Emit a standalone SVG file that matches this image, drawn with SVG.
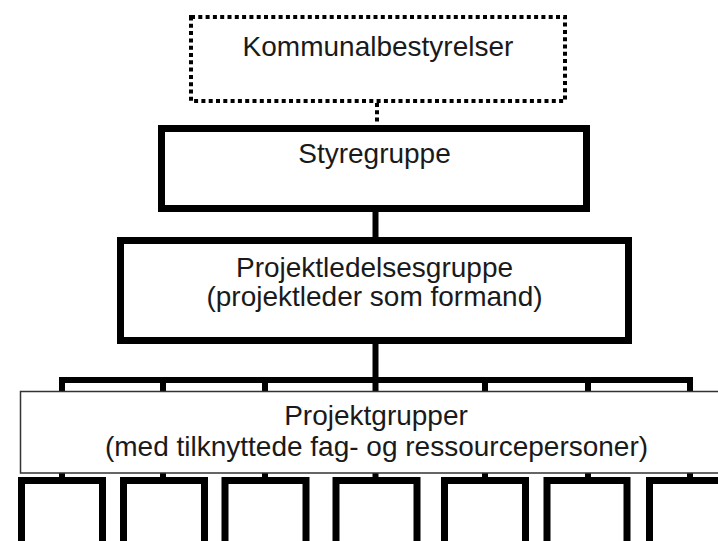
<svg xmlns="http://www.w3.org/2000/svg" width="718" height="541" viewBox="0 0 718 541">
  <style>
    .t { font-family: "Liberation Sans", Arial, sans-serif; font-size: 28px; fill: #1a1a1a; text-anchor: middle; }
    .thick { fill: #fff; stroke: #000; stroke-width: 7; }
    .dot { fill: #fff; stroke: #000; stroke-width: 4; stroke-dasharray: 4 3.3; }
    .wire { fill: none; stroke: #000; stroke-width: 6; }
    .thin { fill: #fff; stroke: #333; stroke-width: 1.5; }
  </style>
  <rect width="718" height="541" fill="#fff"/>
  <g id="connectors">
    <line x1="377" y1="103" x2="377" y2="124" class="dot" style="fill:none"/>
    <line x1="375.5" y1="212" x2="375.5" y2="237" class="wire"/>
    <line x1="375.5" y1="344" x2="375.5" y2="392" class="wire"/>
    <polyline points="62,392 62,380 690,380 690,392" class="wire"/>
    <line x1="163" y1="380" x2="163" y2="392" class="wire"/>
    <line x1="265" y1="380" x2="265" y2="392" class="wire"/>
    <line x1="485" y1="380" x2="485" y2="392" class="wire"/>
    <line x1="588" y1="380" x2="588" y2="392" class="wire"/>
    <g class="wire">
      <line x1="62" y1="473" x2="62" y2="478"/>
      <line x1="163" y1="473" x2="163" y2="478"/>
      <line x1="265" y1="473" x2="265" y2="478"/>
      <line x1="375.5" y1="473" x2="375.5" y2="478"/>
      <line x1="485" y1="473" x2="485" y2="478"/>
      <line x1="588" y1="473" x2="588" y2="478"/>
      <line x1="690" y1="473" x2="690" y2="478"/>
    </g>
  </g>
  <g id="kommunalbestyrelser">
    <rect x="191" y="17" width="374" height="84" class="dot"/>
    <text x="378" y="56" class="t">Kommunalbestyrelser</text>
  </g>
  <g id="styregruppe">
    <rect x="161.5" y="128.5" width="425" height="80" class="thick"/>
    <text x="374.5" y="163" class="t">Styregruppe</text>
  </g>
  <g id="projektledelsesgruppe">
    <rect x="120.5" y="240.5" width="508" height="100" class="thick"/>
    <text x="374.5" y="277" class="t">Projektledelsesgruppe</text>
    <text x="374.5" y="306" class="t">(projektleder som formand)</text>
  </g>
  <g id="projektgrupper">
    <rect x="20.5" y="391.5" width="710" height="81.5" class="thin"/>
    <text x="376" y="425" class="t">Projektgrupper</text>
    <text x="376.5" y="456" class="t">(med tilknyttede fag- og ressourcepersoner)</text>
  </g>
  <g id="gruppe1"><rect x="21.5" y="480.5" width="81" height="80" class="thick"/></g>
  <g id="gruppe2"><rect x="123.5" y="480.5" width="81" height="80" class="thick"/></g>
  <g id="gruppe3"><rect x="225" y="480.5" width="81" height="80" class="thick"/></g>
  <g id="gruppe4"><rect x="336" y="480.5" width="81" height="80" class="thick"/></g>
  <g id="gruppe5"><rect x="444.5" y="480.5" width="81" height="80" class="thick"/></g>
  <g id="gruppe6"><rect x="547" y="480.5" width="80" height="80" class="thick"/></g>
  <g id="gruppe7"><rect x="649.5" y="480.5" width="81" height="80" class="thick"/></g>
</svg>
